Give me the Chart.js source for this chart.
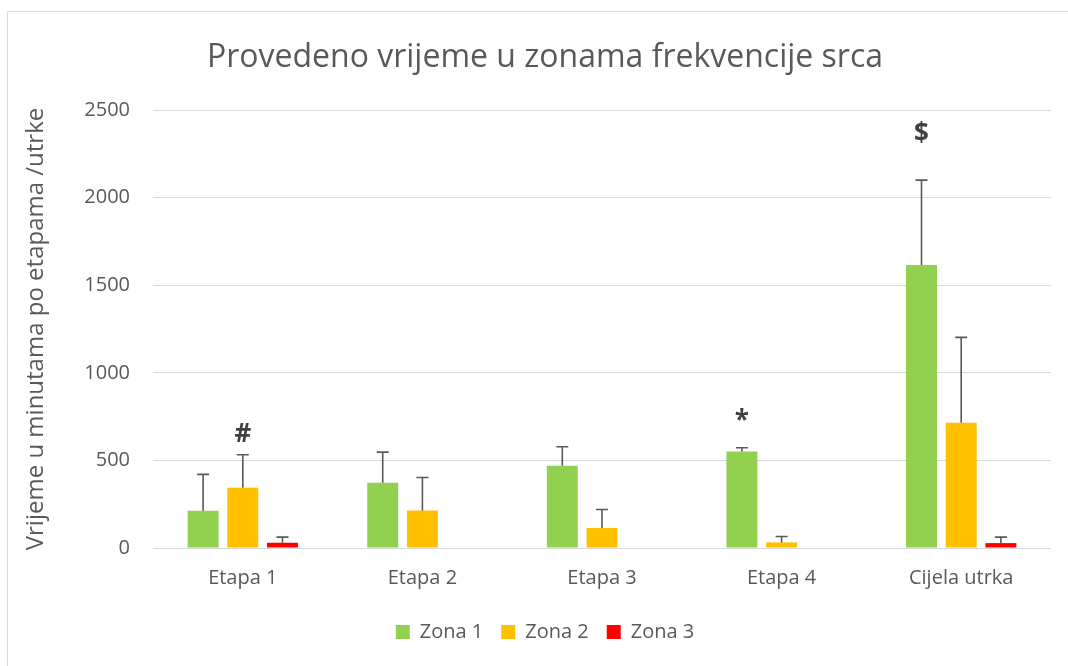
<!DOCTYPE html>
<html>
<head>
<meta charset="utf-8">
<script src="https://cdn.jsdelivr.net/npm/chart.js@4/dist/chart.umd.min.js"></script>
<style>
  html, body { margin: 0; padding: 0; background: #ffffff; overflow: hidden; }
  #wrap { position: relative; width: 1068px; height: 666px; }
</style>
</head>
<body>
<div id="wrap"><canvas id="c" width="1068" height="666"></canvas></div>
<script>
const categories = ['Etapa 1', 'Etapa 2', 'Etapa 3', 'Etapa 4', 'Cijela utrka'];
const seriesNames = ['Zona 1', 'Zona 2', 'Zona 3'];
const zona1 = [212, 372, 470, 551, 1615];
const zona2 = [344, 214, 114, 32, 715];
const zona3 = [30, 0, 0, 0, 28];
const zona1Err = [208, 175, 108, 21, 485];
const zona2Err = [188, 188, 106, 34, 487];
const zona3Err = [32, 0, 0, 0, 34];
const yTicks = [0, 500, 1000, 1500, 2000, 2500];
// significance marks: [series index, category index, symbol, value level]
const markSeries = [1, 0, 0];
const markCategory = [0, 3, 4];
const markSymbol = ['#', '*', '$'];
const markLevel = [645, 722, 2358];

const colors = ['#92D050', '#FFC000', '#FF0000'];
const FONT = "'Open Sans', 'Noto Sans', sans-serif";
const TXT = '#595959';

const frame = {
  id: 'frame',
  beforeDraw(chart) {
    const ctx = chart.ctx;
    ctx.save();
    ctx.fillStyle = '#ffffff';
    ctx.fillRect(0, 0, chart.width, chart.height);
    ctx.strokeStyle = '#d9d9d9';
    ctx.lineWidth = 1;
    ctx.beginPath();
    ctx.moveTo(7.5, chart.height + 2);
    ctx.lineTo(7.5, 11.5);
    ctx.lineTo(chart.width + 2, 11.5);
    ctx.stroke();
    ctx.restore();
  }
};

const errorBars = {
  id: 'errorBars',
  afterDatasetsDraw(chart) {
    const ctx = chart.ctx;
    const y = chart.scales.y;
    ctx.save();
    ctx.strokeStyle = '#595959';
    ctx.lineWidth = 1.6;
    chart.data.datasets.forEach((ds, di) => {
      const meta = chart.getDatasetMeta(di);
      meta.data.forEach((bar, i) => {
        const err = ds.errors[i];
        if (!err) return;
        const top = y.getPixelForValue(ds.data[i] + err);
        ctx.beginPath();
        ctx.moveTo(bar.x, bar.y);
        ctx.lineTo(bar.x, top);
        ctx.moveTo(bar.x - 6, top);
        ctx.lineTo(bar.x + 6, top);
        ctx.stroke();
      });
    });
    // significance symbols
    ctx.fillStyle = '#404040';
    ctx.font = 'bold 26px ' + FONT;
    ctx.textAlign = 'center';
    ctx.textBaseline = 'middle';
    markSymbol.forEach((s, k) => {
      const bar = chart.getDatasetMeta(markSeries[k]).data[markCategory[k]];
      ctx.fillText(s, bar.x, y.getPixelForValue(markLevel[k]));
    });
    ctx.restore();
  }
};

const datasets = [zona1, zona2, zona3].map((d, i) => ({
  label: seriesNames[i],
  data: d,
  errors: [zona1Err, zona2Err, zona3Err][i],
  backgroundColor: colors[i],
  borderWidth: 0,
  categoryPercentage: 0.663,
  barPercentage: 0.78
}));

new Chart(document.getElementById('c'), {
  type: 'bar',
  data: { labels: categories, datasets },
  options: {
    responsive: false,
    animation: false,
    devicePixelRatio: 1,
    layout: { padding: { left: 39, right: 17, top: 0, bottom: 14 } },
    plugins: {
      title: {
        display: true,
        text: 'Provedeno vrijeme u zonama frekvencije srca',
        color: TXT,
        font: { family: FONT, size: 32, weight: 'normal', lineHeight: 1.2 },
        padding: { top: 39, bottom: 32.6 }
      },
      legend: {
        position: 'bottom',
        labels: {
          color: TXT,
          font: { family: FONT, size: 20 },
          boxWidth: 14,
          boxHeight: 14,
          padding: 18
        }
      },
      tooltip: { enabled: false }
    },
    scales: {
      x: {
        grid: { display: false, drawTicks: false },
        border: { display: false },
        ticks: { color: TXT, font: { family: FONT, size: 20 }, padding: 18, maxRotation: 0 },
        afterFit(s) { s.height = 56; }
      },
      y: {
        min: 0,
        max: 2500,
        afterBuildTicks(s) { s.ticks = yTicks.map(v => ({ value: v })); },
        grid: { color: '#d9d9d9', lineWidth: 1, drawTicks: false },
        border: { display: false },
        ticks: {
          color: TXT, font: { family: FONT, size: 20 }, padding: 23,
          callback: (v) => String(v)
        },
        title: {
          display: true,
          text: 'Vrijeme u minutama po etapama /utrke',
          color: TXT,
          font: { family: FONT, size: 24, lineHeight: 1.2 },
          padding: { top: -17.4, bottom: 0 }
        },
        afterFit(s) { s.width = 114; }
      }
    }
  },
  plugins: [frame, errorBars]
});
</script>
</body>
</html>
